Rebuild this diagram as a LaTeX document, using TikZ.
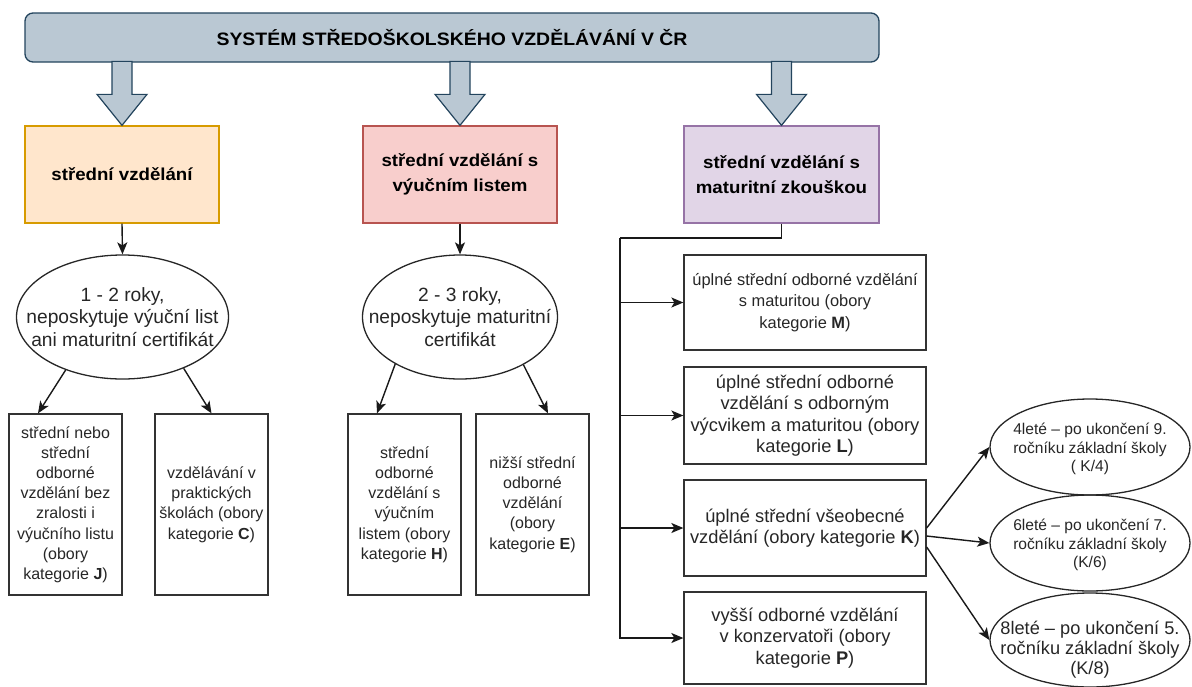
\documentclass[tikz,border=0pt]{standalone}
\usepackage{fontspec}
\setmainfont{Liberation Sans}
\newfontfamily\widesans[FakeStretch=1.08]{Liberation Sans}
\usetikzlibrary{shapes.geometric,arrows.meta}
\definecolor{tfill}{HTML}{BAC8D3}
\definecolor{tdraw}{HTML}{23445D}
\definecolor{ofill}{HTML}{FFE6CC}
\definecolor{odraw}{HTML}{D79B00}
\definecolor{rfill}{HTML}{F8CECC}
\definecolor{rdraw}{HTML}{B85450}
\definecolor{pfill}{HTML}{E1D5E7}
\definecolor{pdraw}{HTML}{9673A6}
\begin{document}
\begin{tikzpicture}[x=1pt,y=-1pt,
  titlebox/.style={draw=tdraw, fill=tfill, line width=1.3pt, rounded corners=8pt, inner sep=0pt,
    font=\widesans\bfseries\fontsize{18}{20}\selectfont},
  hdr/.style={rectangle, line width=1.3pt, inner sep=0pt, align=center,
    font=\widesans\bfseries\fontsize{17.3}{25}\selectfont},
  box/.style={draw=black!80, rectangle, line width=1.3pt, inner sep=0pt, align=center, text=black!85,
    font=\fontsize{16}{20.2}\selectfont},
  wbox/.style={box, font=\fontsize{18.3}{21.5}\selectfont},
  oval/.style={draw=black!85, ellipse, line width=1.3pt, inner sep=0pt},
  lbl/.style={align=center, inner sep=0pt, text=black!85, font=\fontsize{19.2}{22.5}\selectfont},
  slbl/.style={align=center, inner sep=0pt, text=black!85, font=\fontsize{15.6}{18.5}\selectfont},
  conn/.style={-{Stealth[length=12pt,width=10pt,inset=3pt]}, line width=1.4pt, draw=black!90},
  plain/.style={line width=1.4pt, draw=black!90},
  blockarrow/.style={draw=tdraw, fill=tfill, line width=1.2pt, line join=miter}
]
\useasboundingbox (0,0) rectangle (1192,686);

% title
\node[titlebox, minimum width=854, minimum height=49] (T) at (452,37.5) {SYSTÉM STŘEDOŠKOLSKÉHO VZDĚLÁVÁNÍ V ČR};

% header boxes
\node[hdr, draw=odraw, fill=ofill, minimum width=194, minimum height=97] (B1) at (122,174.5) {střední vzdělání};
\node[hdr, draw=rdraw, fill=rfill, minimum width=194, minimum height=97] (B2) at (460,174.5) {střední vzdělání s\\výučním listem};
\node[hdr, draw=pdraw, fill=pfill, minimum width=195, minimum height=97] (B3) at (781.5,174.5) {střední vzdělání s\\maturitní zkouškou};

% block arrows
\foreach \b in {B1,B2,B3}{
  \draw[blockarrow] (\b.north) -- ++(25,-31) -- ++(-15,0) -- ++(0,-33) -- ++(-20,0) -- ++(0,33) -- ++(-15,0) -- cycle;
}

% ellipses
\node[oval, minimum width=212, minimum height=124,
  label={[lbl]center:1 - 2 roky,\\neposkytuje výuční list\\ani maturitní certifikát}] (E1) at (122.5,317) {};
\node[oval, minimum width=195, minimum height=124,
  label={[lbl]center:2 - 3 roky,\\neposkytuje maturitní\\certifikát}] (E2) at (460,317) {};

% lower left boxes
\node[box, minimum width=113, minimum height=181] (J) at (65.5,504.5) {střední nebo\\střední\\odborné\\vzdělání bez\\zralosti i\\výučního listu\\(obory\\kategorie \textbf{J})};
\node[box, minimum width=113, minimum height=181] (C) at (211.5,504.5) {vzdělávání v\\praktických\\školách (obory\\kategorie \textbf{C})};
\node[box, minimum width=113, minimum height=181] (H) at (404.5,504.5) {střední\\odborné\\vzdělání s\\výučním\\listem (obory\\kategorie \textbf{H})};
\node[box, minimum width=113, minimum height=181] (E) at (532.5,504.5) {nižší střední\\odborné\\vzdělání\\(obory\\kategorie \textbf{E})};

% right boxes
\node[box, font=\fontsize{16.4}{21.5}\selectfont, minimum width=242, minimum height=95] (M) at (805,302.5) {úplné střední odborné vzdělání\\s maturitou (obory\\kategorie \textbf{M})};
\node[wbox, minimum width=242, minimum height=97] (L) at (805,415.5) {úplné střední odborné\\vzdělání s odborným\\výcvikem a maturitou (obory\\kategorie \textbf{L})};
\node[wbox, minimum width=242, minimum height=96] (K) at (805,528) {úplné střední všeobecné\\vzdělání (obory kategorie \textbf{K})};
\node[wbox, minimum width=242, minimum height=92] (P) at (805,638) {vyšší odborné vzdělání\\v konzervatoři (obory\\kategorie \textbf{P})};

% right ellipses
\node[oval, minimum width=200, minimum height=96,
  label={[slbl, yshift=-2pt]center:4leté – po ukončení 9.\\ročníku základní školy\\( K/4)}] (K4) at (1090,447) {};
\node[oval, minimum width=200, minimum height=96,
  label={[slbl, yshift=-2pt]center:6leté – po ukončení 7.\\ročníku základní školy\\(K/6)}] (K6) at (1090,543) {};
\node[oval, minimum width=200, minimum height=94,
  label={[slbl, yshift=-10pt, font=\fontsize{18.2}{20}\selectfont]center:8leté – po ukončení 5.\\ročníku základní školy\\(K/8)}] (K8) at (1090,640) {};

% connectors
\draw[conn] (B1.south) -- (E1.north);
\draw[conn] (B2.south) -- (E2.north);
\draw[conn] (E1.223) -- ([xshift=-27.5pt]J.north);
\draw[conn] (E1.320) -- (C.north);
\draw[conn] (E2.216) -- ([xshift=-27.5pt]H.north);
\draw[conn] (E2.323) -- ([xshift=15.5pt]E.north);

\coordinate (tr) at (620,238);
\draw[plain] (B3.south) |- (tr);
\draw[conn] (tr) |- (M.west);
\draw[conn] (tr) |- (L.west);
\draw[conn] (tr) |- (K.west);
\draw[conn] (tr) |- (P.west);

\draw[conn] (K.east) -- (K4.west);
\draw[conn] ([yshift=-8pt]K.east) -- (K6.west);
\draw[conn] ([yshift=-19pt]K.east) -- (K8.west);
\end{tikzpicture}
\end{document}
